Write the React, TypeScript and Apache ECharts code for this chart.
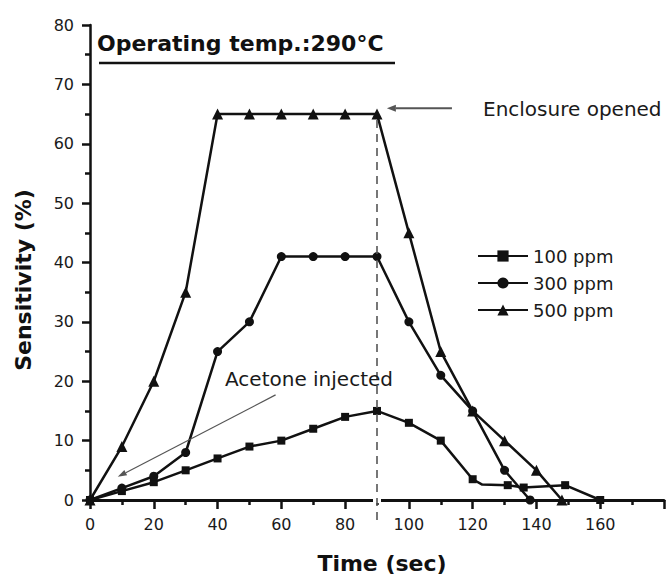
import React, { useEffect, useRef } from "react";
import * as echarts from "echarts";

// Sensitivity (%) versus time (s) at three acetone concentrations
const time100 = [0, 10, 20, 30, 40, 50, 60, 70, 80, 90, 100, 110, 120, 123, 131, 136, 149, 160];
const sens100 = [0, 1.5, 3, 5, 7, 9, 10, 12, 14, 15, 13, 10, 3.5, 2.6, 2.5, 2.1, 2.5, 0];

const time300 = [0, 10, 20, 30, 40, 50, 60, 70, 80, 90, 100, 110, 120, 130, 138];
const sens300 = [0, 2, 4, 8, 25, 30, 41, 41, 41, 41, 30, 21, 15, 5, 0];

const time500 = [0, 10, 20, 30, 40, 50, 60, 70, 80, 90, 100, 110, 120, 130, 140, 148];
const sens500 = [0, 9, 20, 35, 65, 65, 65, 65, 65, 65, 45, 25, 15, 10, 5, 0];

const seriesNames = ["100 ppm", "300 ppm", "500 ppm"];
const xTicks = [0, 20, 40, 60, 80, 100, 120, 140, 160];

// Events marked on the plot (time s, sensitivity %)
const openedAt = 90;
const openedLevel = 65;
const openedArrowFrom = [113.5, 66];
const openedArrowTo = [93.1, 66];
const injectArrowFrom = [58.2, 17.7];
const injectArrowTo = [8.7, 3.9];

const FONT = "DejaVu Sans";
const INK = "#111";

function pairs(xs: number[], ys: number[], hidden: number[] = []) {
  return xs.map((x, i) =>
    hidden.includes(x) ? { value: [x, ys[i]], symbol: "none" } : { value: [x, ys[i]] }
  );
}

function arrow(from: number[], to: number[], color: string, width: number, headLen: number, headHalf: number) {
  const dx = to[0] - from[0];
  const dy = to[1] - from[1];
  const len = Math.hypot(dx, dy);
  const ux = dx / len;
  const uy = dy / len;
  const bx = to[0] - ux * headLen;
  const by = to[1] - uy * headLen;
  return [
    {
      type: "line",
      z: 100,
      shape: { x1: from[0], y1: from[1], x2: bx, y2: by },
      style: { stroke: color, lineWidth: width },
    },
    {
      type: "polygon",
      z: 100,
      shape: {
        points: [
          [to[0], to[1]],
          [bx - uy * headHalf, by + ux * headHalf],
          [bx + uy * headHalf, by - ux * headHalf],
        ],
      },
      style: { fill: color },
    },
  ];
}

export default function App() {
  const ref = useRef<HTMLDivElement>(null);

  useEffect(() => {
    if (!ref.current) return;
    const chart = echarts.init(ref.current, undefined, { renderer: "svg" });

    const lineSeries = (name: string, data: any[], symbol: string, size: number) => ({
      name,
      type: "line",
      data,
      symbol,
      symbolSize: size,
      showAllSymbol: true,
      clip: false,
      z: 5,
      lineStyle: { color: INK, width: 2.5 },
      itemStyle: { color: INK, borderWidth: 0 },
    });

    chart.setOption({
      animation: false,
      backgroundColor: "#fff",
      textStyle: { fontFamily: FONT },
      grid: { left: 90, top: 25, width: 618.75, height: 475, containLabel: false },
      xAxis: {
        type: "value",
        min: 0,
        max: 180,
        interval: 20,
        axisLine: { lineStyle: { color: INK, width: 3 } },
        axisTick: { show: true, inside: false, length: 9, lineStyle: { color: INK, width: 2.5 } },
        minorTick: { show: true, splitNumber: 2, length: 5, lineStyle: { color: INK, width: 2.5 } },
        axisLabel: {
          show: true,
          margin: 16,
          fontSize: 16,
          fontFamily: FONT,
          color: "#1a1a1a",
          formatter: (v: number) => (xTicks.includes(v) ? String(v) : ""),
        },
        splitLine: { show: false },
        minorSplitLine: { show: false },
      },
      yAxis: {
        type: "value",
        min: 0,
        max: 80,
        interval: 10,
        axisLine: { show: true, lineStyle: { color: INK, width: 2.5 } },
        axisTick: { show: true, inside: false, length: 8, lineStyle: { color: INK, width: 2.5 } },
        minorTick: { show: true, splitNumber: 2, length: 5, lineStyle: { color: INK, width: 2.5 } },
        axisLabel: { margin: 16, fontSize: 16, fontFamily: FONT, color: "#1a1a1a" },
        splitLine: { show: false },
        minorSplitLine: { show: false },
      },
      legend: {
        data: seriesNames,
        orient: "vertical",
        left: 477,
        top: 247,
        padding: 0,
        itemWidth: 50,
        itemHeight: 14,
        itemGap: 9,
        textStyle: { fontSize: 18, fontFamily: FONT, color: "#1a1a1a" },
        inactiveColor: "#ccc",
      },
      series: [
        lineSeries(seriesNames[0], pairs(time100, sens100, [123]), "rect", 8),
        lineSeries(seriesNames[1], pairs(time300, sens300), "circle", 9),
        lineSeries(seriesNames[2], pairs(time500, sens500), "triangle", 11),
      ],
    });

    const px = (p: number[]) => chart.convertToPixel({ gridIndex: 0 }, p) as number[];
    const top = px([openedAt, openedLevel - 1]);
    const base = px([openedAt, 0]);

    chart.setOption({
      graphic: [
        // break in the time axis where the dashed marker crosses it
        {
          type: "rect",
          z: 99,
          shape: { x: base[0] - 4, y: base[1] - 3, width: 8, height: 6 },
          style: { fill: "#fff" },
        },
        {
          type: "line",
          z: 100,
          shape: { x1: top[0], y1: top[1], x2: base[0], y2: base[1] + 22 },
          style: { stroke: "#555", lineWidth: 1.6, lineDash: [8, 6] },
        },
        ...arrow(px(openedArrowFrom), px(openedArrowTo), "#555", 2, 9, 3.5),
        ...arrow(px(injectArrowFrom), px(injectArrowTo), "#555", 1.2, 9, 3),
        {
          type: "text",
          z: 100,
          x: 97,
          y: 43,
          style: {
            text: "Operating temp.:290°C",
            font: `bold 22px "${FONT}"`,
            fill: INK,
            verticalAlign: "middle",
          },
        },
        {
          type: "line",
          z: 100,
          shape: { x1: 99, y1: 63, x2: 395, y2: 63 },
          style: { stroke: INK, lineWidth: 2.5 },
        },
        {
          type: "text",
          z: 100,
          x: 483,
          y: 109,
          style: {
            text: "Enclosure opened",
            font: `20px "${FONT}"`,
            fill: "#1a1a1a",
            verticalAlign: "middle",
          },
        },
        {
          type: "text",
          z: 100,
          x: 225,
          y: 379,
          style: {
            text: "Acetone injected",
            font: `20px "${FONT}"`,
            fill: "#1a1a1a",
            verticalAlign: "middle",
          },
        },
        {
          type: "text",
          z: 100,
          x: 382,
          y: 563,
          style: {
            text: "Time (sec)",
            font: `bold 22px "${FONT}"`,
            fill: INK,
            align: "center",
            verticalAlign: "middle",
          },
        },
        {
          type: "text",
          z: 100,
          x: 23,
          y: 280,
          rotation: Math.PI / 2,
          style: {
            text: "Sensitivity (%)",
            font: `bold 22px "${FONT}"`,
            fill: INK,
            align: "center",
            verticalAlign: "middle",
          },
        },
      ],
    });

    return () => chart.dispose();
  }, []);

  return (
    <div
      ref={ref}
      style={{ position: "fixed", left: 0, top: 0, width: 667, height: 577, background: "#fff", overflow: "hidden" }}
    />
  );
}
